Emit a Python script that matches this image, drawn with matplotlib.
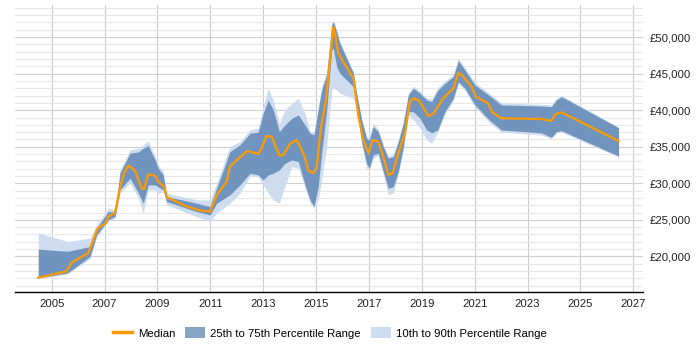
import matplotlib.pyplot as plt
from matplotlib.lines import Line2D
from matplotlib.patches import Patch
from matplotlib.ticker import FuncFormatter, MultipleLocator

plt.rcParams['font.family'] = ['Liberation Sans', 'DejaVu Sans']
fsize = 8.2

# median salary
median_years = [2004.49, 2005.54, 2005.76, 2006.38, 2006.74, 2007.05, 2007.14, 2007.39,
                2007.58, 2007.73, 2007.90, 2008.15, 2008.28, 2008.40, 2008.49, 2008.65,
                2008.91, 2009.03, 2009.25, 2009.35, 2010.11, 2010.67, 2010.99, 2011.24,
                2011.62, 2011.74, 2012.12, 2012.40, 2012.81, 2012.94, 2013.12, 2013.32,
                2013.61, 2013.76, 2014.01, 2014.27, 2014.45, 2014.55, 2014.71, 2014.89,
                2015.02, 2015.17, 2015.37, 2015.65, 2015.71, 2015.84, 2016.41, 2016.60,
                2016.79, 2016.98, 2017.14, 2017.35, 2017.54, 2017.73, 2017.90, 2018.05,
                2018.36, 2018.55, 2018.68, 2018.87, 2019.08, 2019.24, 2019.43, 2019.81,
                2020.19, 2020.38, 2020.57, 2020.88, 2021.04, 2021.51, 2021.64, 2022.01,
                2023.52, 2023.90, 2024.05, 2024.28, 2026.44]
median = [17100, 17940, 19170, 20450, 23870, 24550, 25450, 25920,
          29330, 31380, 32420, 31740, 30470, 29330, 29200, 31240,
          31050, 30230, 29550, 28100, 26820, 26230, 26140, 28420,
          30230, 32280, 33570, 34430, 34010, 34790, 36470, 36380,
          33790, 33880, 35380, 35930, 34560, 33790, 31740, 31380,
          32070, 37300, 41390, 51330, 50510, 47770, 44360, 39120,
          35930, 34110, 35930, 35700, 33650, 31150, 31380, 33430,
          36850, 41170, 41630, 41390, 40260, 39210, 39480, 41630,
          42990, 45120, 44580, 43210, 41850, 40940, 39800, 38890,
          38800, 38520, 39440, 39710, 35790]

# percentile bands
band_years = [2004.49, 2005.60, 2006.45, 2006.70, 2007.14, 2007.40, 2007.58, 2007.96,
              2008.28, 2008.46, 2008.65, 2008.91, 2009.03, 2009.22, 2009.35, 2010.48,
              2010.99, 2011.24, 2011.74, 2012.12, 2012.50, 2012.81, 2013.00, 2013.19,
              2013.38, 2013.61, 2013.82, 2014.08, 2014.33, 2014.58, 2014.77, 2014.92,
              2015.08, 2015.21, 2015.40, 2015.59, 2015.65, 2015.78, 2015.90, 2016.41,
              2016.53, 2016.72, 2016.91, 2017.01, 2017.16, 2017.35, 2017.54, 2017.73,
              2017.92, 2018.11, 2018.30, 2018.49, 2018.68, 2018.93, 2019.18, 2019.37,
              2019.60, 2019.87, 2020.19, 2020.38, 2020.63, 2021.01, 2021.55, 2022.01,
              2023.52, 2023.90, 2024.09, 2024.28, 2026.44]
p10 = [17000, 17600, 19700, 22640, 24770, 25300, 28650, 30010,
       27970, 25920, 29100, 29100, 28650, 28800, 27050, 25450,
       24770, 25920, 27280, 28650, 31000, 30900, 29800, 28650,
       27740, 27280, 29550, 32280, 32060, 29500, 27280, 26600,
       27740, 30470, 35020, 42760, 43000, 42760, 42310, 41630,
       40300, 35500, 32060, 31800, 33430, 33800, 31300, 28420,
       28700, 31300, 34600, 39400, 38660, 37530, 35930, 35480,
       37000, 39400, 41300, 43600, 42700, 40400, 38300, 37000,
       36600, 36100, 36900, 37000, 33600]
p25 = [17050, 17750, 20000, 22960, 25000, 25500, 29100, 30700,
       28650, 27300, 29780, 29780, 29500, 29100, 27500, 26140,
       25680, 27280, 28420, 29780, 31380, 31150, 30470, 31150,
       31380, 31830, 32730, 33200, 32970, 29780, 27740, 26820,
       29550, 34110, 40030, 48220, 48500, 45940, 45040, 43210,
       40480, 35700, 32730, 32060, 33880, 34110, 31610, 29330,
       29550, 31610, 35020, 39800, 39800, 38890, 37300, 36900,
       37300, 39800, 41630, 43900, 42990, 40710, 38660, 37300,
       36900, 36300, 37070, 37200, 33740]
p75 = [21000, 20700, 21350, 23870, 26140, 26000, 31380, 34110,
       34300, 34790, 35160, 33200, 32060, 31150, 28190, 27280,
       26820, 29330, 34330, 35250, 36850, 37000, 39580, 41390,
       40030, 37070, 37980, 38890, 39350, 37980, 36850, 36610,
       40030, 42760, 44810, 51640, 52100, 50700, 49140, 45040,
       42310, 38660, 36160, 35900, 37750, 37070, 35020, 33430,
       33650, 35700, 38210, 42080, 42990, 42310, 41390, 41170,
       42700, 43670, 44580, 46760, 45490, 43440, 42000, 40710,
       40570, 40480, 41400, 41850, 37600]
p90 = [23200, 22050, 22500, 24320, 26600, 26400, 31830, 34560,
       34800, 35250, 35840, 33650, 32500, 31600, 28650, 27740,
       27740, 30010, 35020, 35700, 37300, 37530, 40480, 42990,
       41390, 38210, 40030, 40940, 41630, 39580, 37070, 36900,
       40480, 43210, 45260, 51870, 52320, 50960, 49400, 45300,
       42500, 38900, 36400, 36200, 38210, 37400, 35300, 33700,
       34000, 36000, 38500, 42400, 43300, 42600, 41700, 41500,
       43100, 44000, 44900, 47100, 45800, 43800, 42300, 41000,
       40800, 40700, 41600, 42000, 37700]

orange = '#ff9900'
dark = '#7094bd'
light = '#cddcee'

fig = plt.figure(figsize=(7, 3.5), dpi=100)
ax = fig.add_axes([0.0214, 0.165, 0.897, 0.821])

ax.fill_between(band_years, p10, p90, color=light, linewidth=0)
ax.fill_between(band_years, p25, p75, color=dark, linewidth=0)
ax.plot(median_years, median, color=orange, linewidth=1.6)

ax.set_xlim(2003.61, 2027.36)
ax.set_ylim(15100, 54400)
ax.set_xticks(range(2005, 2028, 2))
ax.yaxis.set_major_locator(MultipleLocator(5000))
ax.yaxis.set_minor_locator(MultipleLocator(1000))
ax.yaxis.set_major_formatter(FuncFormatter(lambda v, p: f'£{v:,.0f}'))
ax.yaxis.tick_right()
ax.tick_params(axis='both', which='both', length=0, labelsize=fsize, colors='#222222')
ax.tick_params(axis='y', pad=5)
ax.tick_params(axis='x', pad=5)

ax.grid(True, which='major', axis='x', color='#cccccc', linewidth=0.8)
ax.grid(True, which='major', axis='y', color='#d0d0d0', linewidth=0.8)
ax.grid(True, which='minor', axis='y', color='#e8e8e8', linewidth=0.8)
ax.set_axisbelow(True)

for side in ['left', 'right', 'top']:
    ax.spines[side].set_visible(False)
ax.spines['bottom'].set_color('black')
ax.spines['bottom'].set_linewidth(1)

handles = [Line2D([0], [0], color=orange, linewidth=2.5),
           Patch(facecolor='#88a4c4', edgecolor='none'),
           Patch(facecolor=light, edgecolor='none')]
labels = ['Median', '25th to 75th Percentile Range', '10th to 90th Percentile Range']
fig.legend(handles, labels, loc='center', bbox_to_anchor=(330 / 700, 1 - 333 / 350),
           ncol=3, frameon=False, fontsize=fsize, handlelength=1.7, handleheight=1.1,
           handletextpad=0.5, columnspacing=0.9)

fig.savefig('out.png', dpi=100)
